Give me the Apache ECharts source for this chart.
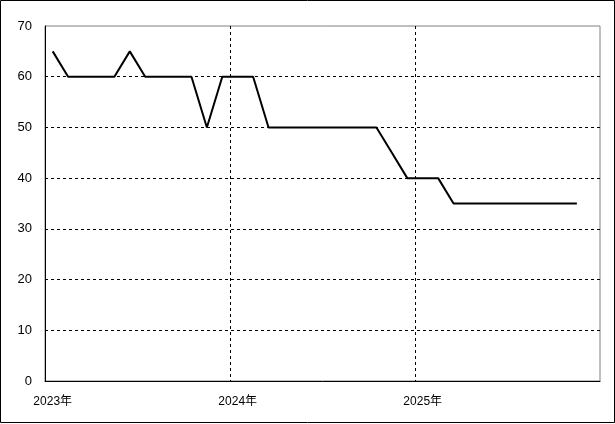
<!DOCTYPE html>
<html><head><meta charset="utf-8">
<script src="https://cdn.jsdelivr.net/npm/echarts@6/dist/echarts.min.js"></script>
<style>html,body{margin:0;padding:0;background:#fff}#c{width:615px;height:424px}</style>
</head><body><div id="c"></div>
<script>
// Months Jan 2023 .. Dec 2025
const years = [2023, 2024, 2025];
const months = [];
years.forEach(y => { for (let m = 1; m <= 12; m++) months.push(y + '-' + String(m).padStart(2, '0')); });
// Monthly values (Dec 2025 has no value)
const values = [
  65, 60, 60, 60, 60, 65, 60, 60, 60, 60, 50, 60,
  60, 60, 50, 50, 50, 50, 50, 50, 50, 50, 45, 40,
  40, 40, 35, 35, 35, 35, 35, 35, 35, 35, 35, null
];
const yTicks = [0, 10, 20, 30, 40, 50, 60, 70];

const font = '"Liberation Sans", "Noto Sans CJK JP", sans-serif';
const chart = echarts.init(document.getElementById('c'), null, {renderer: 'canvas'});
chart.setOption({
  animation: false,
  backgroundColor: '#fff',
  grid: {left: 45, top: 26, right: 15, bottom: 43, show: true, borderColor: '#808080', borderWidth: 1, containLabel: false},
  xAxis: {
    type: 'category', data: months, boundaryGap: true,
    axisLine: {show: true, lineStyle: {color: '#000', width: 1}},
    axisTick: {show: false},
    axisLabel: {
      interval: 11, margin: 15, color: '#000', fontSize: 12, fontFamily: font,
      formatter: v => v.slice(0, 4) + '年'
    },
    splitLine: {show: true, interval: 11, showMinLine: false, showMaxLine: false,
      lineStyle: {color: '#000', type: [3, 3], width: 1}}
  },
  yAxis: {
    type: 'value', min: yTicks[0], max: yTicks[yTicks.length - 1], interval: 10,
    axisLine: {show: true, lineStyle: {color: '#000', width: 1}},
    axisTick: {show: false},
    axisLabel: {margin: 13, color: '#000', fontSize: 13, fontFamily: font},
    splitLine: {show: true, showMinLine: false, showMaxLine: false,
      lineStyle: {color: '#000', type: [3, 3], width: 1}}
  },
  series: [{
    type: 'line', data: values, showSymbol: false, symbol: 'none',
    lineStyle: {color: '#000', width: 2}, connectNulls: false
  }],
  graphic: [{
    type: 'rect', shape: {x: 0.5, y: 0.5, width: 614, height: 422},
    style: {fill: null, stroke: '#000', lineWidth: 1}, silent: true
  }]
});
</script></body></html>
